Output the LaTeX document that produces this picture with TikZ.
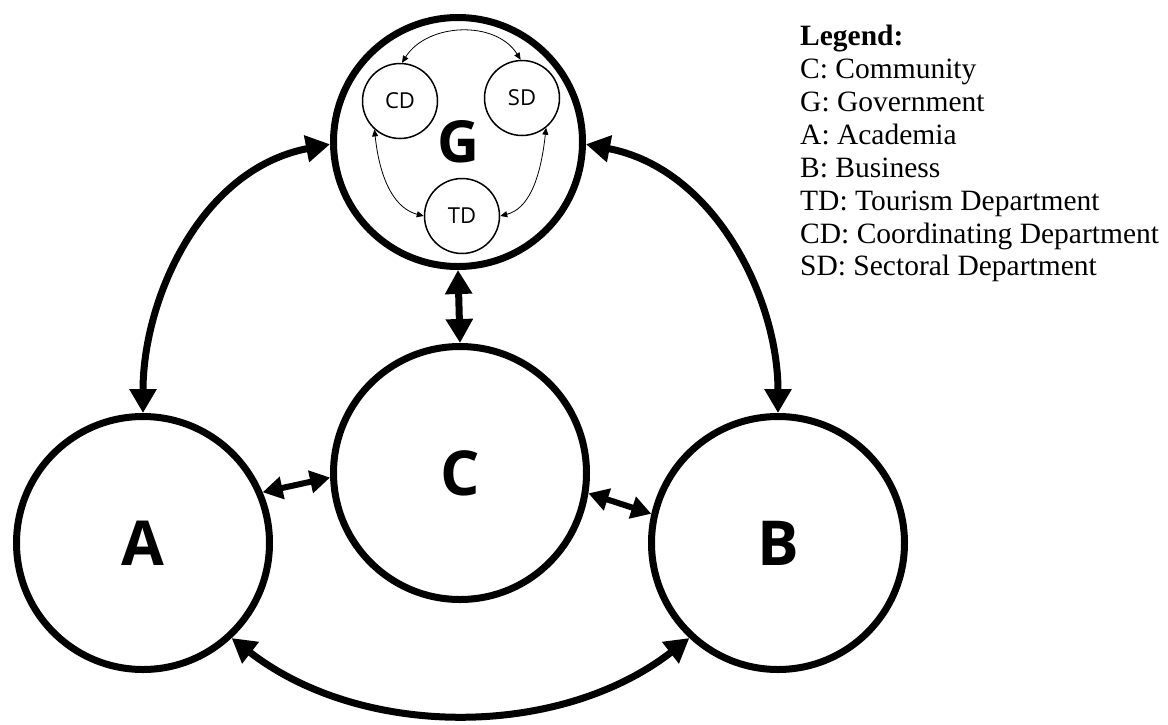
\documentclass[tikz,border=0pt]{standalone}
\usepackage{fontspec}
\setmainfont{Liberation Serif}
\newfontfamily\osans{Open Sans}
\usetikzlibrary{arrows.meta}
\begin{document}
\begin{tikzpicture}[x=1pt,y=1pt,
 big/.style={circle,draw,line width=7pt,minimum size=253pt,inner sep=0pt,font=\osans\bfseries\fontsize{62}{62}\selectfont},
 gov/.style={big,minimum size=249pt,font=\osans\bfseries\fontsize{58}{58}\selectfont},
 small/.style={circle,draw,line width=1.5pt,minimum size=75pt,inner sep=0pt,font=\osans\fontsize{22}{22}\selectfont},
 bigarrow/.style={line width=7pt,{Triangle[length=24pt,width=26pt]}-{Triangle[length=24pt,width=26pt]}},
 midarrow/.style={line width=6pt,{Triangle[length=20pt,width=22pt]}-{Triangle[length=20pt,width=22pt]}},
 thinarrow/.style={line width=0.8pt,{Triangle[length=7pt,width=6pt]}-{Triangle[length=7pt,width=6pt]}},
 legend/.style={anchor=north west,inner sep=0pt,align=left,font=\fontsize{29.5}{32.9}\selectfont}
]
\useasboundingbox (0,0) rectangle (1168,-724);

% main circles
\node[gov] (G) at (458,-142) {G};
\node[big] (A) at (143,-543) {A};
\node[big] (B) at (778,-543) {B};
\node[big] (C) at (460,-473) {C};

% inner circles
\node[small] (CD) at (400,-101) {CD};
\node[small] (SD) at (522,-98) {SD};
\node[small] (TD) at (462,-216) {TD};

% big connectors
\draw[bigarrow] (A.north) .. controls +(0,113) and +(-130,-25) .. (G.181);
\draw[bigarrow] (B.north) .. controls +(0,113) and +(130,-25) .. (G.-1);
\draw[bigarrow] (A.-47) .. controls +(130,-101) and +(-130,-101) .. (B.-133);
\draw[bigarrow] (G.south) -- (C.north);

% short connectors
\draw[midarrow] (A.23) -- (C.182);
\draw[midarrow] (C.-9) -- (B.167);

% inner connectors
\draw[thinarrow] (CD.87) .. controls +(25,40) and +(-25,40) .. (SD.92);
\draw[thinarrow] (CD.-132) .. controls +(6,-55) and +(-27,7) .. (TD.180);
\draw[thinarrow] (SD.-51) .. controls +(-6,-55) and +(27,7) .. (TD.0);

% legend
\node[legend] (leg) at (800,-25) {\textbf{Legend:}\\
C: Community\\
G: Government\\
A: Academia\\
B: Business\\
TD: Tourism Department\\
CD: Coordinating Department\\
SD: Sectoral Department};
\end{tikzpicture}
\end{document}
